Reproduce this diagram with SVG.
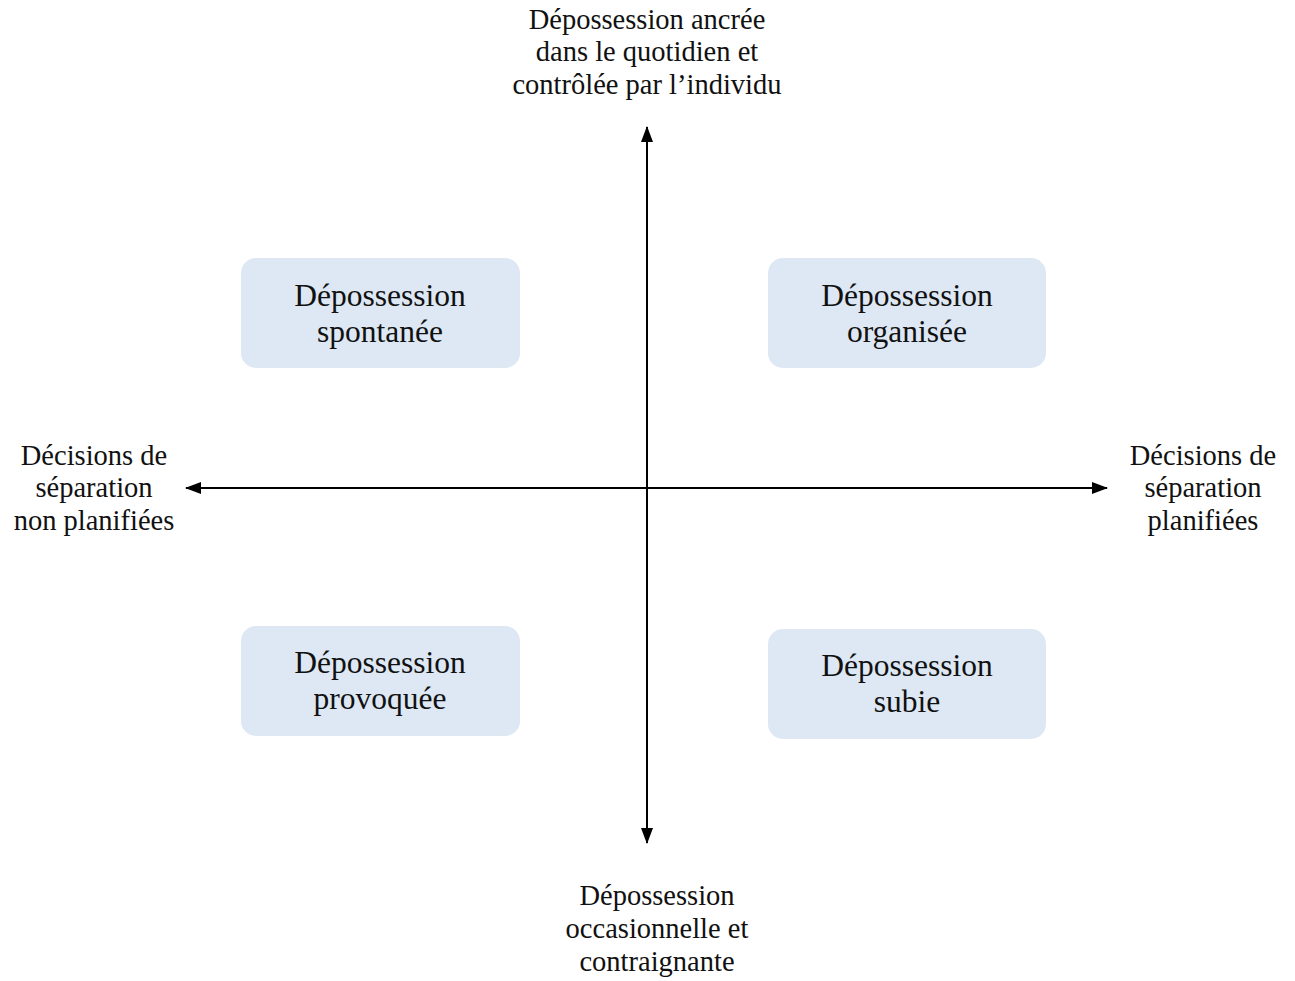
<svg xmlns="http://www.w3.org/2000/svg" width="1295" height="981" viewBox="0 0 1295 981">
<style>
.box{fill:#dde8f4;}
.bt{font-family:"Liberation Serif",serif;font-size:31.5px;fill:#111;text-anchor:middle;}
.lt{font-family:"Liberation Serif",serif;font-size:28.5px;fill:#111;text-anchor:middle;}
.ax{stroke:#000;stroke-width:2;fill:none;marker-end:url(#ah);}
</style>
<defs>
<marker id="ah" viewBox="0 0 16 12" refX="15" refY="6" markerWidth="16" markerHeight="12" markerUnits="userSpaceOnUse" orient="auto">
<path d="M0,0 L16,6 L0,12 Z" fill="#000"/>
</marker>
</defs>
<rect width="1295" height="981" fill="#fff"/>
<g id="connectors">
<line class="ax" x1="647" y1="488" x2="647" y2="127"/>
<line class="ax" x1="647" y1="488" x2="647" y2="843"/>
<line class="ax" x1="647" y1="488" x2="186" y2="488"/>
<line class="ax" x1="647" y1="488" x2="1107" y2="488"/>
</g>
<g id="node-spontanee">
<rect class="box" x="241" y="258" width="279" height="110" rx="15"/>
<text class="bt" x="380" y="306">Dépossession</text>
<text class="bt" x="380" y="342">spontanée</text>
</g>
<g id="node-organisee">
<rect class="box" x="768" y="258" width="278" height="110" rx="15"/>
<text class="bt" x="907" y="306">Dépossession</text>
<text class="bt" x="907" y="342">organisée</text>
</g>
<g id="node-provoquee">
<rect class="box" x="241" y="626" width="279" height="110" rx="15"/>
<text class="bt" x="380" y="673">Dépossession</text>
<text class="bt" x="380" y="709">provoquée</text>
</g>
<g id="node-subie">
<rect class="box" x="768" y="629" width="278" height="110" rx="15"/>
<text class="bt" x="907" y="676">Dépossession</text>
<text class="bt" x="907" y="712">subie</text>
</g>
<g id="label-top">
<text class="lt" x="647" y="29">Dépossession ancrée</text>
<text class="lt" x="647" y="61">dans le quotidien et</text>
<text class="lt" x="647" y="94">contrôlée par l’individu</text>
</g>
<g id="label-bottom">
<text class="lt" x="657" y="905">Dépossession</text>
<text class="lt" x="657" y="938">occasionnelle et</text>
<text class="lt" x="657" y="971">contraignante</text>
</g>
<g id="label-left">
<text class="lt" x="94" y="465">Décisions de</text>
<text class="lt" x="94" y="497">séparation</text>
<text class="lt" x="94" y="530">non planifiées</text>
</g>
<g id="label-right">
<text class="lt" x="1203" y="465">Décisions de</text>
<text class="lt" x="1203" y="497">séparation</text>
<text class="lt" x="1203" y="530">planifiées</text>
</g>
</svg>
